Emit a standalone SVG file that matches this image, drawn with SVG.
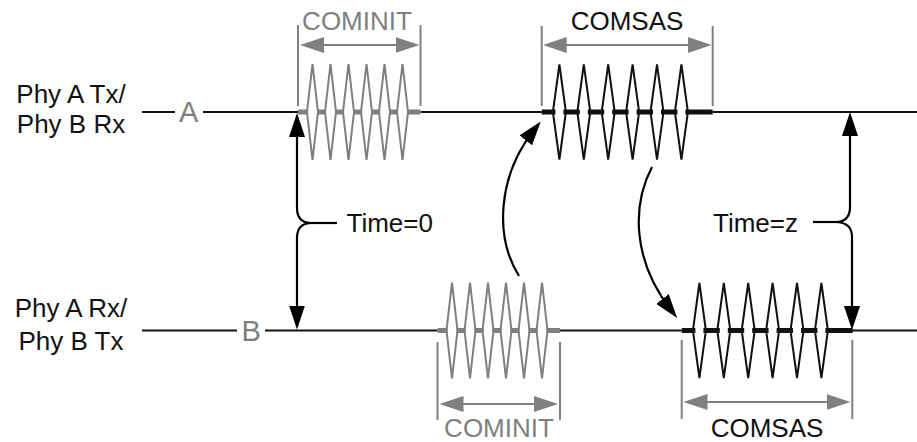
<svg xmlns="http://www.w3.org/2000/svg" width="917" height="442" viewBox="0 0 917 442">
<style>
text{font-family:"Liberation Sans",Arial,sans-serif;font-size:26px;fill:#111}
.g{fill:#7f7f7f}
.mid{text-anchor:middle}
.sig{stroke:#111;stroke-width:1.8;fill:none}
.tick{stroke:#808080;stroke-width:2;fill:none}
.dim{stroke:#808080;stroke-width:2.2;fill:none;marker-start:url(#ahg);marker-end:url(#ahg)}
.conn{stroke:#000;stroke-width:2.2;fill:none}
.dgi{stroke:#7f7f7f;stroke-width:2;fill:none}
.dgs{stroke:#111;stroke-width:2;fill:none}
.thi{stroke:#7f7f7f;stroke-width:5;fill:none}
.ths{stroke:#111;stroke-width:5;fill:none}
</style>
<defs>
<marker id="ah" viewBox="0 0 24 16" refX="14" refY="8" markerWidth="24" markerHeight="16" markerUnits="userSpaceOnUse" orient="auto-start-reverse"><path d="M0,0 L24,8 L0,16 Z" fill="#000"/></marker>
<marker id="ahg" viewBox="0 0 24 16" refX="14" refY="8" markerWidth="24" markerHeight="16" markerUnits="userSpaceOnUse" orient="auto-start-reverse"><path d="M0,0 L24,8 L0,16 Z" fill="#808080"/></marker>
<g id="cominit">
<path class="thi" d="M0,0 H10 M19,0 H28 M37,0 H46 M55,0 H64 M73,0 H82 M91,0 H100 M109,0 H122.5"/>
<path class="dgi" d="M14.5,-48 L20,0 L14.5,48 L9,0 Z M32.5,-48 L38,0 L32.5,48 L27,0 Z M50.5,-48 L56,0 L50.5,48 L45,0 Z M68.5,-48 L74,0 L68.5,48 L63,0 Z M86.5,-48 L92,0 L86.5,48 L81,0 Z M104.5,-48 L110,0 L104.5,48 L99,0 Z"/>
</g>
<g id="comsas">
<path class="ths" d="M0,0 H13.7 M21.7,0 H38.1 M46.1,0 H62.5 M70.5,0 H86.9 M94.9,0 H111.3 M119.3,0 H135.7 M143.7,0 H171"/>
<path class="dgs" d="M17.7,-47.5 L24.2,0 L17.7,47.5 L11.2,0 Z M42.1,-47.5 L48.6,0 L42.1,47.5 L35.6,0 Z M66.5,-47.5 L73,0 L66.5,47.5 L60,0 Z M90.9,-47.5 L97.4,0 L90.9,47.5 L84.4,0 Z M115.3,-47.5 L121.8,0 L115.3,47.5 L108.8,0 Z M139.7,-47.5 L146.2,0 L139.7,47.5 L133.2,0 Z"/>
</g>
</defs>

<g id="lane-a">
<text class="mid" x="71" y="103">Phy A Tx/</text>
<text class="mid" x="71" y="133">Phy B Rx</text>
<path class="sig" d="M142,112 H175 M203,112 H298 M420.5,112 H541.7 M712.7,112 H917"/>
<text class="g" x="179" y="122" style="font-size:29px">A</text>
</g>

<g id="lane-b">
<text class="mid" x="71" y="317">Phy A Rx/</text>
<text class="mid" x="71" y="350">Phy B Tx</text>
<path class="sig" d="M142,330.5 H237 M265,330.5 H437.5 M560,330.5 H681.7 M852.3,330.5 H917"/>
<text class="g" x="241.5" y="341" style="font-size:29px">B</text>
</g>

<g id="cominit-a">
<use href="#cominit" transform="translate(298,112)"/>
<path class="tick" d="M298,25 V106 M420.5,25 V106"/>
<path class="dim" d="M310,45 H409.5"/>
<text class="g mid" x="357" y="30">COMINIT</text>
</g>

<g id="comsas-a">
<use href="#comsas" transform="translate(541.7,112)"/>
<path class="tick" d="M541.7,26 V106 M712.7,26 V106"/>
<path class="dim" d="M552.7,45 H701.7"/>
<text class="mid" x="627" y="30">COMSAS</text>
</g>

<g id="cominit-b">
<use href="#cominit" transform="translate(437.5,330.5)"/>
<path class="tick" d="M437.5,342 V420 M560,342 V420"/>
<path class="dim" d="M449.5,404 H548"/>
<text class="g mid" x="499" y="437">COMINIT</text>
</g>

<g id="comsas-b">
<use href="#comsas" transform="translate(681.7,330.5)"/>
<path class="tick" d="M681.7,340 V419 M852.3,340 V419"/>
<path class="dim" d="M693.5,402 H840.5"/>
<text class="mid" x="767" y="437">COMSAS</text>
</g>

<g id="time0">
<text x="346.5" y="232">Time=0</text>
</g>
<g id="timez">
<text x="713" y="232">Time=z</text>
</g>

<g id="connectors">
<path class="conn" style="marker-start:url(#ah);marker-end:url(#ah)" d="M297,123 V208 Q297,222 310,223 Q297,224 297,238 V319.5"/>
<path class="conn" d="M305,223 H337"/>
<path class="conn" style="marker-start:url(#ah);marker-end:url(#ah)" d="M850,122 V207 Q850,221 837,222 Q852,223 852,237 V320"/>
<path class="conn" d="M813,222 H838"/>
<path class="conn" style="marker-end:url(#ah)" d="M519,276 C494,236 498,175 534.5,129.4"/>
<path class="conn" style="marker-end:url(#ah)" d="M652,167 C632,205 632,260 671,310"/>
</g>
</svg>
